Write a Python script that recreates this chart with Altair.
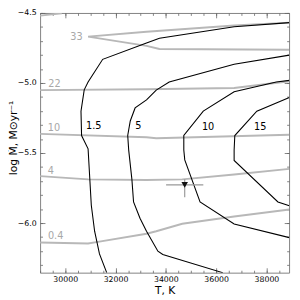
import altair as alt
import pandas as pd

# ---- grey contour lines (label values 33, 22, 10, 4, 0.4) ----
g33_T = [38910, 36715, 33231, 30908, 33231, 33746, 38910]
g33_M = [-4.569, -4.590, -4.634, -4.669, -4.735, -4.757, -4.762]
gtop_T = [29000, 29863]
gtop_M = [-4.519, -4.502]
g22_T = [29000, 33231, 36715, 38910]
g22_M = [-5.051, -5.044, -5.035, -4.988]
g10_T = [29000, 33231, 33618, 38910]
g10_M = [-5.363, -5.387, -5.394, -5.370]
g4_T = [29000, 30908, 33231, 34652, 36715, 38910]
g4_M = [-5.665, -5.688, -5.692, -5.688, -5.653, -5.613]
g04_T = [29000, 30908, 31296, 33231, 33618, 34652, 36715, 38910]
g04_M = [-6.139, -6.146, -6.134, -6.076, -6.058, -6.005, -5.953, -5.903]

# ---- black contour lines (1.5, 5, 10, 15) ----
b15_T = [38910, 36715, 33746, 33231, 31489, 30908, 30754, 30626, 30649, 30908, 31036, 31168, 31361, 31648]
b15_M = [-4.569, -4.599, -4.681, -4.715, -4.831, -4.993, -5.049, -5.201, -5.375, -5.470, -5.873, -6.058, -6.220, -6.354]
b5_T = [38910, 36715, 34133, 33618, 33231, 32778, 32585, 32484, 32523, 32650, 32716, 32972, 33231, 33684, 33878, 36262]
b5_M = [-4.801, -4.866, -4.993, -5.051, -5.120, -5.178, -5.271, -5.375, -5.479, -5.688, -5.849, -5.965, -6.058, -6.201, -6.224, -6.354]
b10_T = [38910, 38391, 36715, 35488, 34714, 34714, 34752, 35360, 36715, 38910]
b10_M = [-4.981, -4.993, -5.063, -5.201, -5.375, -5.479, -5.549, -5.849, -6.007, -6.104]
b15b_T = [38910, 37617, 36742, 36715, 36715, 38457, 38910]
b15b_M = [-5.104, -5.201, -5.375, -5.479, -5.553, -5.849, -5.877]

# ---- contour labels ----
lab_text = ["33", "22", "10", "4", "0.4", "1.5", "5", "10", "15"]
lab_kind = ["grey", "grey", "grey", "grey", "grey", "black", "black", "black", "black"]
lab_T = [30444, 29573, 29554, 29426, 29619, 31133, 32910, 35681, 37749]
lab_M = [-4.669, -5.005, -5.319, -5.630, -6.092, -5.309, -5.309, -5.3125, -5.3125]

# ---- measured point with error bars ----
pt_T = [34750]
pt_M = [-5.727]
pt_Tlo = [34010]
pt_Thi = [35490]
pt_Mlo = [-5.815]
pt_Mhi = [-5.688]

# ---- axis ticks ----
x_major = [30000, 32000, 34000, 36000, 38000]
x_minor = [29000 + 500 * i for i in range(20)]
y_major = [-6.0, -5.5, -5.0, -4.5]
y_minor = [round(-6.3 + 0.1 * i, 1) for i in range(19)]

rows = []
def add(name, kind, T, M):
    for i, (t, m) in enumerate(zip(T, M)):
        rows.append(dict(series=name, kind=kind, T=t, logM=m, order=i))

add("g33", "grey", g33_T, g33_M)
add("gtop", "grey", gtop_T, gtop_M)
add("g22", "grey", g22_T, g22_M)
add("g10", "grey", g10_T, g10_M)
add("g4", "grey", g4_T, g4_M)
add("g04", "grey", g04_T, g04_M)
add("b1.5", "black", b15_T, b15_M)
add("b5", "black", b5_T, b5_M)
add("b10", "black", b10_T, b10_M)
add("b15", "black", b15b_T, b15b_M)
df = pd.DataFrame(rows)
labs = pd.DataFrame(dict(text=lab_text, kind=lab_kind, T=lab_T, logM=lab_M))
pt = pd.DataFrame(dict(T=pt_T, logM=pt_M, Tlo=pt_Tlo, Thi=pt_Thi, Mlo=pt_Mlo, Mhi=pt_Mhi))

xs = alt.Scale(domain=[29000, 38900], nice=False, zero=False)
ys = alt.Scale(domain=[-6.354, -4.5], nice=False, zero=False)
FONT = "DejaVu Sans"
TICKC = "#666666"


def xaxis(orient, values, size, labels, title=None):
    kw = dict(orient=orient, values=values, tickSize=size, offset=-size, labels=labels,
              domain=False, grid=False, tickColor=TICKC, tickWidth=0.8, format="d",
              labelFont=FONT, labelFontSize=8, labelColor="#000", labelPadding=3)
    if title:
        kw.update(title=title, titleFont=FONT, titleFontSize=11, titleFontWeight="normal",
                  titlePadding=1, titleColor="#000")
    else:
        kw.update(title=None)
    return alt.Axis(**kw)


def yaxis(orient, values, size, labels, title=None):
    kw = dict(orient=orient, values=values, tickSize=size, offset=-size, labels=labels,
              domain=False, grid=False, tickColor=TICKC, tickWidth=0.8, format=".1f",
              labelFont=FONT, labelFontSize=8, labelColor="#000", labelPadding=4)
    if title:
        kw.update(title=title, titleFont=FONT, titleFontSize=11, titleFontWeight="normal",
                  titleColor="#000", titleAngle=270, titleAlign="center",
                  titleBaseline="middle", titleX=-32, titleY=128)
    else:
        kw.update(title=None)
    return alt.Axis(**kw)


grey_lines = alt.Chart(df[df.kind == "grey"]).mark_line(
    color="#b8b8b8", strokeWidth=2, clip=True
).encode(
    x=alt.X("T:Q", scale=xs, axis=xaxis("bottom", x_major, 5, True, "T, K")),
    y=alt.Y("logM:Q", scale=ys, axis=yaxis("left", y_major, 5, True, "log Ṁ, M⊙yr⁻¹")),
    detail="series:N",
    order="order:Q",
)

black_lines = alt.Chart(df[df.kind == "black"]).mark_line(
    color="#000000", strokeWidth=1.1, clip=True
).encode(
    x=alt.X("T:Q", scale=xs, axis=xaxis("bottom", x_minor, 2.5, False)),
    y=alt.Y("logM:Q", scale=ys, axis=yaxis("left", y_minor, 2.5, False)),
    detail="series:N",
    order="order:Q",
)

labels = alt.Chart(labs).mark_text(font=FONT, fontSize=10).encode(
    x=alt.X("T:Q", scale=xs, axis=xaxis("top", x_major, 5, False)),
    y=alt.Y("logM:Q", scale=ys, axis=yaxis("right", y_major, 5, False)),
    text="text:N",
    color=alt.Color("kind:N", scale=alt.Scale(domain=["grey", "black"], range=["#a8a8a8", "#000000"]), legend=None),
)

xerr = alt.Chart(pt).mark_rule(color="#999999", strokeWidth=1.2).encode(
    x=alt.X("Tlo:Q", scale=xs, axis=xaxis("top", x_minor, 2.5, False)),
    x2="Thi:Q",
    y=alt.Y("logM:Q", scale=ys, axis=yaxis("right", y_minor, 2.5, False)),
)
yerr = alt.Chart(pt).mark_rule(color="#999999", strokeWidth=1.2).encode(
    x=alt.X("T:Q", scale=xs, axis=None),
    y=alt.Y("Mlo:Q", scale=ys, axis=None),
    y2="Mhi:Q",
)
point = alt.Chart(pt).mark_point(shape="triangle-down", filled=True, color="#111111", size=45, opacity=1).encode(
    x=alt.X("T:Q", scale=xs, axis=None),
    y=alt.Y("logM:Q", scale=ys, axis=None),
)

chart = alt.layer(grey_lines, black_lines, labels, xerr, yerr, point).resolve_axis(
    x="independent", y="independent"
).properties(
    width=256, height=267, autosize="none",
    padding={"left": 33, "top": 1, "right": 3, "bottom": 24},
    background="white",
).configure_view(stroke="#808080", strokeWidth=1)

chart.save("out.html", embed_options={"renderer": "svg", "actions": False})
